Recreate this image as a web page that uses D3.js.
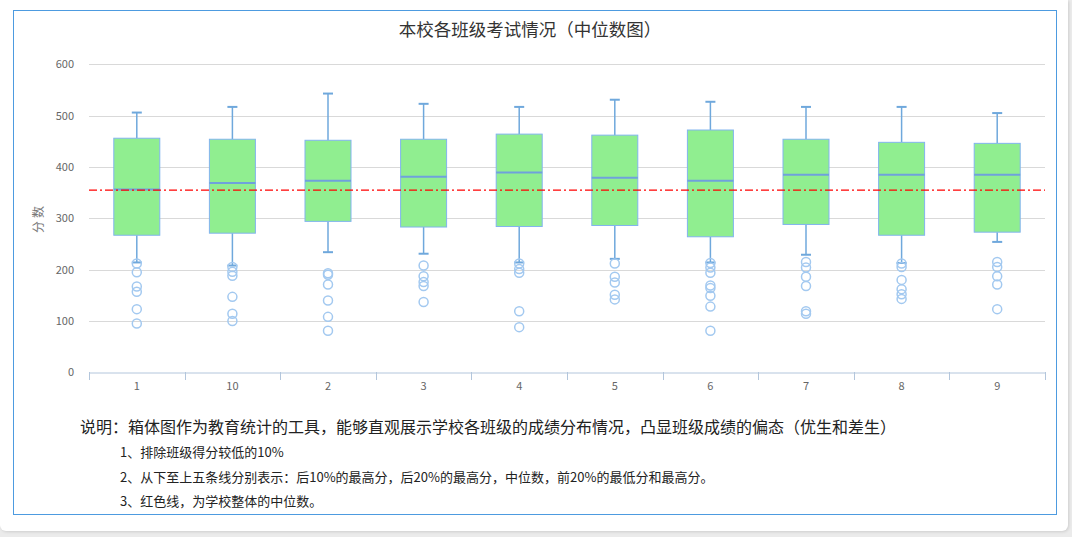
<!DOCTYPE html>
<html><head><meta charset="utf-8">
<script src="https://cdn.jsdelivr.net/npm/d3@7/dist/d3.min.js"></script>
<style>
html,body{margin:0;padding:0;background:#ebebeb;width:1072px;height:537px;overflow:hidden;}
#card{position:absolute;left:0;top:0;width:1068px;height:531px;background:#fff;border-radius:0 0 6px 6px;box-shadow:1px 1px 3px rgba(0,0,0,0.12);}
svg{position:absolute;left:0;top:0;}
text{font-family:"Noto Sans CJK SC","Noto Sans",sans-serif;}
</style></head>
<body><div id="card"></div><svg id="chart" width="1072" height="537"></svg>
<script>
const title = "本校各班级考试情况（中位数图）";
const yLabel = "分数";
const categories = ["1","10","2","3","4","5","6","7","8","9"];
const whiskerHigh = [506, 517, 543, 523, 517, 531, 527, 517, 517, 505];
const q3Values    = [456, 454, 452, 454, 464, 462, 472, 454, 448, 446];
const medians     = [356, 369, 373, 381, 389, 379, 373, 385, 385, 385];
const q1Values    = [267, 271, 294, 283, 284, 286, 264, 288, 267, 273];
const whiskerLow  = [214, 208, 234, 231, 214, 221, 214, 229, 213, 254];
const outliers = [
  [212, 195, 167, 157, 123, 95],
  [205, 196, 188, 147, 114, 100],
  [193, 190, 171, 140, 108, 81],
  [208, 187, 176, 168, 137],
  [212, 201, 194, 119, 88],
  [212, 186, 175, 151, 142],
  [213, 204, 194, 169, 164, 149, 128, 81],
  [215, 204, 186, 168, 119, 114],
  [212, 205, 180, 162, 152, 143],
  [215, 205, 187, 171, 123]
];
const schoolMedian = 355;
const yTicks = [0,100,200,300,400,500,600];
const notes = [
  "说明：箱体图作为教育统计的工具，能够直观展示学校各班级的成绩分布情况，凸显班级成绩的偏态（优生和差生）",
  "1、排除班级得分较低的10%",
  "2、从下至上五条线分别表示：后10%的最高分，后20%的最高分，中位数，前20%的最低分和最高分。",
  "3、红色线，为学校整体的中位数。"
];

const svg = d3.select("#chart");
// outer border
svg.append("rect").attr("x",13.5).attr("y",10.5).attr("width",1043).attr("height",504)
  .attr("fill","none").attr("stroke","#4d9be0").attr("stroke-width",1);

svg.append("text").attr("x",530).attr("y",36).attr("text-anchor","middle")
  .attr("font-size",17.5).attr("fill","#333").text(title);

const x = d3.scaleBand().domain(categories).range([89,1045]);
const y = d3.scaleLinear().domain([0,600]).range([372.3,64.3]);

// grid
svg.append("g").selectAll("line").data(yTicks.filter(d=>d>0)).join("line")
  .attr("x1",89).attr("x2",1045).attr("y1",d=>Math.round(y(d))+0.5).attr("y2",d=>Math.round(y(d))+0.5)
  .attr("stroke","#d9d9d9").attr("stroke-width",1);

// y axis labels
const yAxis = svg.append("g").attr("transform","translate(74,0)")
  .call(d3.axisLeft(y).tickValues(yTicks).tickSize(0).tickPadding(0));
yAxis.select(".domain").remove();
yAxis.selectAll("text").attr("font-size",11).attr("fill","#666").attr("font-family","Noto Sans, sans-serif");

svg.append("text").attr("transform","translate(43,218) rotate(-90)").attr("text-anchor","middle")
  .attr("font-size",12).attr("fill","#777").attr("letter-spacing",3).text(yLabel);

// x axis
const xAxis = svg.append("g").attr("transform",`translate(0,${Math.round(y(0))+0.5})`)
  .call(d3.axisBottom(x).tickSize(0).tickPadding(10));
xAxis.select(".domain").attr("stroke","#b3c6dc");
xAxis.selectAll("text").attr("font-size",11).attr("fill","#666").attr("font-family","Noto Sans, sans-serif");
const bounds = categories.map(c=>x(c)).concat([x.range()[1]]);
svg.append("g").selectAll("line").data(bounds).join("line")
  .attr("x1",d=>Math.round(d)+0.5).attr("x2",d=>Math.round(d)+0.5)
  .attr("y1",Math.round(y(0))).attr("y2",Math.round(y(0))+8)
  .attr("stroke","#b3c6dc");

// boxes
const boxW = 46, capW = 10;
const g = svg.append("g");
categories.forEach((c,i)=>{
  const cx = x(c) + x.bandwidth()/2;
  const wc = "#6fa8dc";
  g.append("line").attr("x1",cx).attr("x2",cx).attr("y1",y(whiskerHigh[i])).attr("y2",y(q3Values[i]))
    .attr("stroke",wc).attr("stroke-width",1.5);
  g.append("line").attr("x1",cx).attr("x2",cx).attr("y1",y(q1Values[i])).attr("y2",y(whiskerLow[i]))
    .attr("stroke",wc).attr("stroke-width",1.5);
  g.append("line").attr("x1",cx-capW/2).attr("x2",cx+capW/2).attr("y1",y(whiskerHigh[i])).attr("y2",y(whiskerHigh[i]))
    .attr("stroke",wc).attr("stroke-width",2);
  g.append("line").attr("x1",cx-capW/2).attr("x2",cx+capW/2).attr("y1",y(whiskerLow[i])).attr("y2",y(whiskerLow[i]))
    .attr("stroke",wc).attr("stroke-width",2);
  g.append("rect").attr("x",cx-boxW/2).attr("width",boxW)
    .attr("y",y(q3Values[i])).attr("height",y(q1Values[i])-y(q3Values[i]))
    .attr("fill","#90ee90").attr("stroke","#82b4ee").attr("stroke-width",1);
  g.append("line").attr("x1",cx-boxW/2).attr("x2",cx+boxW/2).attr("y1",y(medians[i])).attr("y2",y(medians[i]))
    .attr("stroke","#6fa1dc").attr("stroke-width",2);
  g.selectAll(null).data(outliers[i]).join("circle")
    .attr("cx",cx).attr("cy",d=>y(d)).attr("r",4.5)
    .attr("fill","none").attr("stroke","#a3c9f0").attr("stroke-width",1.5);
});

// school median line
svg.append("line").attr("x1",89).attr("x2",1045).attr("y1",y(schoolMedian)).attr("y2",y(schoolMedian))
  .attr("stroke","#ff0000").attr("stroke-width",1.2).attr("stroke-dasharray","8,3,2,3");

// notes
svg.append("text").attr("x",80).attr("y",433).attr("font-size",16).attr("fill","#222").text(notes[0]);
[457,482,506].forEach((yy,k)=>{
  svg.append("text").attr("x",120).attr("y",yy).attr("font-size",13).attr("fill","#222").text(notes[k+1]);
});
</script></body></html>
